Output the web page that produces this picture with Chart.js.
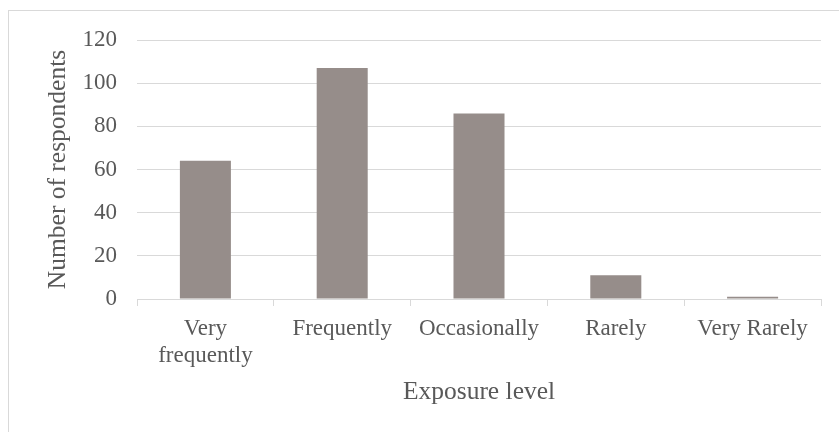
<!DOCTYPE html>
<html>
<head>
<meta charset="utf-8">
<script src="https://cdn.jsdelivr.net/npm/chart.js@4"></script>
<style>
  html, body { margin: 0; padding: 0; background: #fff; }
  #grafico-wrap { width: 839px; height: 432px; }
</style>
</head>
<body>
<div id="grafico-wrap"><canvas id="grafico"></canvas></div>
<script>
// categorias do eixo X e quantidade de respondentes
const niveis = [['Very', 'frequently'], 'Frequently', 'Occasionally', 'Rarely', 'Very Rarely'];
const respondentes = [64, 107, 86, 11, 1];
const ticksY = [0, 20, 40, 60, 80, 100, 120];

const corTexto = '#595959';
const corGrade = '#d9d9d9';

// borda fininha em volta do gráfico
const moldura = {
  id: 'moldura',
  beforeDraw(chart) {
    const ctx = chart.ctx;
    ctx.save();
    ctx.strokeStyle = corGrade;
    ctx.lineWidth = 1;
    ctx.strokeRect(8.5, 10.5, 900, 500);
    ctx.restore();
  }
};

const fonteTick = { family: "'Liberation Serif', 'Times New Roman', serif", size: 23, lineHeight: 1.2 };
const fonteTitulo = { family: "'Liberation Serif', 'Times New Roman', serif", size: 25.5 };

new Chart(document.getElementById('grafico'), {
  type: 'bar',
  data: {
    labels: niveis,
    datasets: [{
      data: respondentes,
      backgroundColor: '#968d8a',
      categoryPercentage: 1,
      barPercentage: 0.373
    }]
  },
  options: {
    responsive: true,
    maintainAspectRatio: false,
    animation: false,
    layout: { padding: { left: 38, right: 18, top: 40, bottom: 20 } },
    plugins: {
      legend: { display: false },
      tooltip: { enabled: false }
    },
    scales: {
      x: {
        grid: {
          offset: true,
          drawOnChartArea: false,
          drawTicks: true,
          tickLength: 7,
          color: corGrade
        },
        border: { color: corGrade },
        ticks: { color: corTexto, font: fonteTick, padding: 9, maxRotation: 0, autoSkip: false },
        title: {
          display: true,
          text: 'Exposure level',
          color: corTexto,
          font: fonteTitulo,
          padding: { top: 4, bottom: 4 }
        },
        afterFit(scale) { scale.height = 113; }
      },
      y: {
        min: 0,
        max: 120,
        afterBuildTicks(scale) { scale.ticks = ticksY.map(v => ({ value: v })); },
        grid: { color: corGrade, drawTicks: false },
        border: { display: false },
        ticks: { color: corTexto, font: fonteTick, padding: 20 },
        title: {
          display: true,
          text: 'Number of respondents',
          color: corTexto,
          font: fonteTitulo,
          padding: { top: 5, bottom: 4 }
        },
        afterFit(scale) { scale.width = 99; }
      }
    }
  },
  plugins: [moldura]
});
</script>
</body>
</html>
